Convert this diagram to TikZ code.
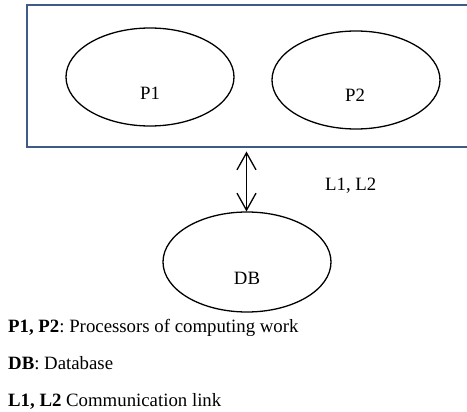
\documentclass[tikz,border=0pt]{standalone}
\usepackage{fontspec}
\setmainfont{Liberation Serif}
\usetikzlibrary{arrows.meta}
\definecolor{boxblue}{RGB}{62,92,138}
\frenchspacing
\begin{document}
\begin{tikzpicture}[x=1pt,y=-1pt,
  lbl/.style={font=\fontsize{18.8}{22}\selectfont,inner sep=0pt,anchor=base},
  leg/.style={font=\fontsize{18.8}{22}\selectfont,inner sep=0pt,anchor=base west},
  link/.style={line width=1.3pt,{Straight Barb[length=17pt,width=19pt,line width=1.3pt]}-{Straight Barb[length=17pt,width=19pt,line width=1.3pt]}}]
\useasboundingbox (0,0) rectangle (467,412);
\begin{scope}
\clip (0,0) rectangle (467,412);
\draw[boxblue,line width=2pt] (27,5) rectangle (480,147);
\end{scope}
\draw[line width=1.3pt] (150,77) ellipse [x radius=84, y radius=49];
\draw[line width=1.3pt] (356,80) ellipse [x radius=84, y radius=49];
\draw[line width=1.3pt] (247,262) ellipse [x radius=84, y radius=50];
\node[lbl] (p1) at (150,100) {P1};
\node[lbl] (p2) at (355,101.5) {P2};
\node[lbl] (db) at (247,285) {DB};
\coordinate (top) at (246.5,151.5);
\coordinate (bot) at (246.5,211.5);
\draw[link] (top) -- (bot);
\node[leg] (l12) at (325,190.5) {L1, L2};
\node[leg] (leg1) at (8,332.5) {\textbf{P1, P2}: Processors of computing work};
\node[leg] (leg2) at (8,370) {\textbf{DB}: Database};
\node[leg] (leg3) at (8,406.5) {\textbf{L1, L2} Communication link};
\end{tikzpicture}
\end{document}
